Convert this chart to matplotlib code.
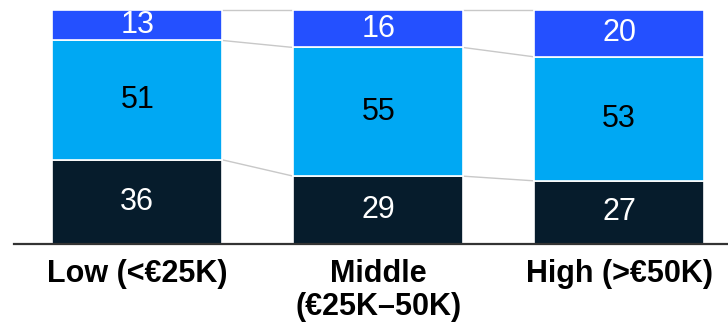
import matplotlib
matplotlib.use("Agg")
import matplotlib.pyplot as plt
import numpy as np

categories = ["Low (<€25K)", "Middle\n(€25K–50K)", "High (>€50K)"]
bottom_vals = [36, 29, 27]
middle_vals = [51, 55, 53]
top_vals = [13, 16, 20]

series = [bottom_vals, middle_vals, top_vals]
colors = ["#061C2C", "#00A8F3", "#2450FF"]
text_colors = ["white", "black", "white"]

plt.rcParams["font.family"] = ["Liberation Sans", "DejaVu Sans"]

fig = plt.figure(figsize=(7.28, 3.31), dpi=100)
ax = fig.add_axes([0.0, 0.2628, 1.0, 0.7372])

x = np.arange(len(categories))
width = 0.705

base = np.zeros(len(categories))
levels = []
for vals, col, tcol in zip(series, colors, text_colors):
    vals = np.array(vals, dtype=float)
    ax.bar(x, vals, width, bottom=base, color=col, edgecolor="white",
           linewidth=1.2, zorder=2)
    for xi, b, v in zip(x, base, vals):
        ax.text(xi, b + v / 2, f"{int(v)}", ha="center", va="center",
                fontsize=22, color=tcol, zorder=3)
    base = base + vals
    levels.append(base.copy())

# connector lines between corresponding segment tops
for lv in levels:
    for i in range(len(x) - 1):
        ax.plot([x[i] + width / 2, x[i + 1] - width / 2], [lv[i], lv[i + 1]],
                color="#C8C8C8", linewidth=1.0, zorder=1)

ax.set_xlim(-0.570, 2.4515)
ax.set_ylim(0, 104.3)

for s in ["top", "right", "left"]:
    ax.spines[s].set_visible(False)
ax.spines["bottom"].set_color("#333333")
ax.spines["bottom"].set_linewidth(1.6)
ax.spines["bottom"].set_bounds(-0.512, 2.4515)

ax.set_yticks([])
ax.set_xticks(x)
ax.set_xticklabels(categories, fontsize=22, fontweight="bold",
                   linespacing=1.12, va="top")
ax.tick_params(axis="x", length=0, pad=11)

fig.savefig("out.png", dpi=100)
